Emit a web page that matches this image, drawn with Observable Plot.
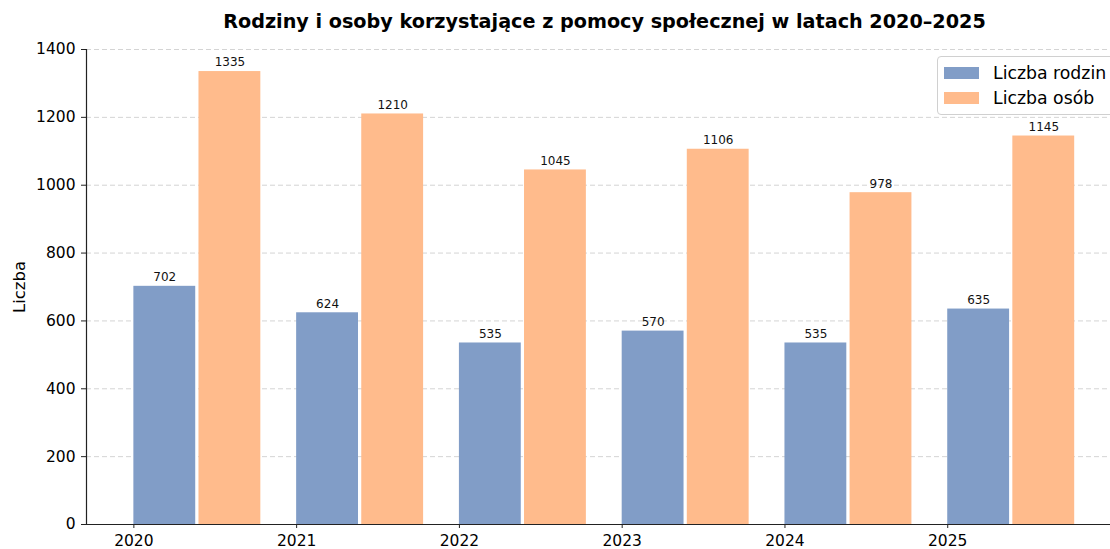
<!DOCTYPE html>
<html><head><meta charset="utf-8">
<script src="https://cdn.jsdelivr.net/npm/d3@7"></script>
<script src="https://cdn.jsdelivr.net/npm/@observablehq/plot@0.6"></script>
<style>
html,body{margin:0;padding:0;background:#fff;overflow:hidden;}
#wrap{position:relative;width:1110px;height:549px;overflow:hidden;font-family:"DejaVu Sans",sans-serif;}
#title{position:absolute;left:0;width:1209px;top:10px;text-align:center;font-weight:bold;font-size:19.2px;color:#000;}
#legend{position:absolute;left:937px;top:56px;width:200px;height:57px;border:1px solid #d0d0d0;border-radius:4px;background:rgba(255,255,255,0.85);font-size:17.3px;color:#000;}
.li{position:absolute;left:6px;height:20px;display:flex;align-items:center;}
.sw{width:35px;height:12px;margin-right:14px;}
</style></head>
<body><div id="wrap"><div id="title">Rodziny i osoby korzystające z pomocy społecznej w latach 2020–2025</div></div>
<script>
const years = [2020, 2021, 2022, 2023, 2024, 2025];
const families = [702, 624, 535, 570, 535, 635];
const persons = [1335, 1210, 1045, 1106, 978, 1145];
const seriesNames = ["Liczba rodzin", "Liczba osób"];
const seriesColors = ["#819dc7", "#ffbb8c"];
const yTicks = [0, 200, 400, 600, 800, 1000, 1200, 1400];

const barW = 0.38;
const rows = [];
years.forEach((y, i) => {
  rows.push({year: y, series: seriesNames[0], value: families[i], off: 0});
  rows.push({year: y, series: seriesNames[1], value: persons[i], off: 0.4});
});

const chart = Plot.plot({
  width: 1110, height: 549,
  marginTop: 49, marginBottom: 25, marginLeft: 86, marginRight: 0,
  style: {fontFamily: "DejaVu Sans", fontSize: "15.5px", color: "#000", background: "transparent"},
  x: {type: "linear", domain: [2019.709, 2026.0], axis: null},
  y: {domain: [0, 1400], axis: null},
  color: {domain: seriesNames, range: seriesColors},
  marks: [
    Plot.ruleY(yTicks.slice(1), {stroke: "#d4d4d4", strokeDasharray: "5,3", strokeWidth: 1}),
    Plot.rectY(rows, {x1: d => d.year + d.off, x2: d => d.year + d.off + barW, y1: 0, y2: "value", fill: "series"}),
    Plot.text(rows, {x: d => d.year + d.off + barW / 2, y: "value", text: d => String(d.value), dy: -9, fontSize: 12, fill: "#111"}),
    Plot.axisY({ticks: yTicks, tickSize: 5, tickPadding: 6, label: null, fontSize: 15.5, tickFormat: d => String(d), stroke: "#222"}),
    Plot.axisX({ticks: years, tickSize: 4, tickPadding: 6, label: null, fontSize: 15.5, tickFormat: d => String(d), stroke: "#222"}),
    Plot.ruleY([0], {stroke: "#222", strokeWidth: 1.2}),
    Plot.ruleX([2019.709], {stroke: "#222", strokeWidth: 1.2}),
    Plot.text(["Liczba"], {frameAnchor: "left", textAnchor: "middle", dx: -67, rotate: -90, fontSize: 16.5, fill: "#000"})
  ]
});
document.getElementById("wrap").appendChild(chart);

const lg = document.createElement("div");
lg.id = "legend";
seriesNames.forEach((n, i) => {
  const r = document.createElement("div");
  r.className = "li";
  r.style.top = (6 + i * 25) + "px";
  r.innerHTML = `<div class="sw" style="background:${seriesColors[i]}"></div><span>${n}</span>`;
  lg.appendChild(r);
});
document.getElementById("wrap").appendChild(lg);
</script></body></html>
